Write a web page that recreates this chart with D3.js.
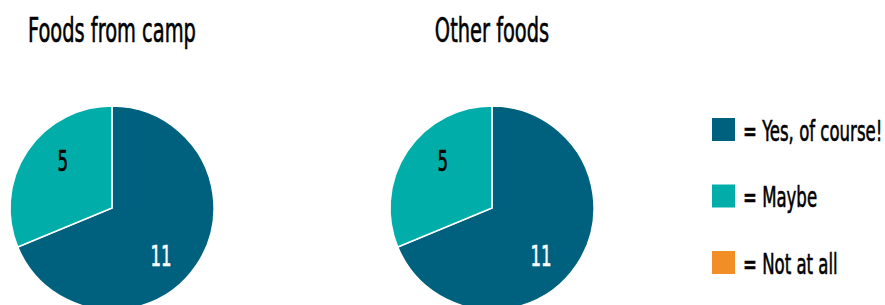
<!DOCTYPE html>
<html>
<head>
<meta charset="utf-8">
<script src="https://cdn.jsdelivr.net/npm/d3@7"></script>
<style>
  html, body { margin: 0; padding: 0; background: #fff; }
  svg { display: block; }
  text { font-family: "DejaVu Sans Condensed", "DejaVu Sans", sans-serif; }
</style>
</head>
<body>
<div id="chart"></div>
<script>
// Survey answers, two pies sharing one legend
const charts = ["Foods from camp", "Other foods"];
const answers = ["Yes, of course!", "Maybe", "Not at all"];
const campCounts = [11, 5, 0];
const otherCounts = [11, 5, 0];
const colors = ["#00617f", "#00ada9", "#f28e26"];
const labelColors = ["#fff", "#000", "#000"];

const width = 885;
const height = 305;
const radius = 102;
const sx = 0.635; // squeeze the condensed font further, reference is a very narrow face

const svg = d3.select("#chart")
  .append("svg")
  .attr("width", width)
  .attr("height", height);

const color = d3.scaleOrdinal().domain(answers).range(colors);

// pie centres along x
const x = d3.scalePoint().domain(charts).range([112, 492]);
const cy = 208;

const pie = d3.pie().sort(null).value((d) => d.value);
const arc = d3.arc().innerRadius(0).outerRadius(radius);
const labelOff = 10 * Math.PI / 180;
const labelArc = d3.arc().innerRadius(68).outerRadius(68);

[campCounts, otherCounts].forEach((counts, ci) => {
  const data = answers.map((a, i) => ({ answer: a, value: counts[i], idx: i }));
  const g = svg.append("g")
    .attr("transform", `translate(${x(charts[ci])},${cy})`);

  g.selectAll("path")
    .data(pie(data).filter((d) => d.data.value > 0))
    .enter()
    .append("path")
    .attr("d", arc)
    .attr("fill", (d) => color(d.data.answer))
    .attr("stroke", "#fff")
    .attr("stroke-width", 1.5);

  g.selectAll("text.val")
    .data(pie(data).filter((d) => d.data.value > 0))
    .enter()
    .append("text")
    .attr("class", "val")
    .attr("transform", (d) => {
      const c = labelArc.centroid({ startAngle: d.startAngle + labelOff, endAngle: d.endAngle + labelOff });
      return `translate(${c[0]},${c[1] + 10.5}) scale(${sx},1)`;
    })
    .attr("text-anchor", "middle")
    .attr("font-size", 29)
    .attr("fill", (d) => labelColors[d.data.idx])
    .attr("stroke", (d) => labelColors[d.data.idx])
    .attr("stroke-width", 0.6)
    .text((d) => d.data.value);

  // title
  svg.append("text")
    .attr("transform", `translate(${x(charts[ci])},42) scale(${sx},1)`)
    .attr("text-anchor", "middle")
    .attr("font-size", 34)
    .attr("fill", "#000")
    .attr("stroke", "#000")
    .attr("stroke-width", 0.6)
    .text(charts[ci]);
});

// legend
const ly = d3.scalePoint().domain(answers).range([118, 251]);
const leg = svg.append("g").selectAll("g")
  .data(answers)
  .enter()
  .append("g")
  .attr("transform", (d) => `translate(712,${ly(d)})`);

leg.append("rect")
  .attr("width", 23)
  .attr("height", 23)
  .attr("fill", (d) => color(d));

leg.append("text")
  .attr("transform", `translate(31,22.5) scale(${sx},1)`)
  .attr("font-size", 29)
  .attr("fill", "#000")
  .attr("stroke", "#000")
  .attr("stroke-width", 0.6)
  .text((d) => "= " + d);
</script>
</body>
</html>
